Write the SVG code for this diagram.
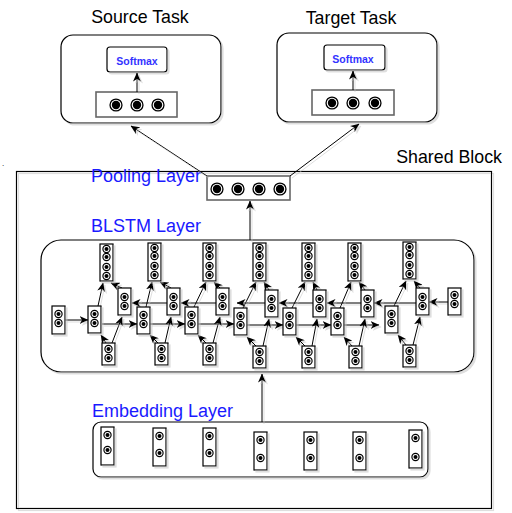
<svg xmlns="http://www.w3.org/2000/svg" xmlns:xlink="http://www.w3.org/1999/xlink" width="512" height="513" viewBox="0 0 512 513">
<style>
.t{font-family:"Liberation Sans",Arial,sans-serif;font-size:17.8px;fill:#000}
.bl{font-family:"Liberation Sans",Arial,sans-serif;font-size:18px;fill:#1a1aff}
.sm{font-family:"Liberation Sans",Arial,sans-serif;font-size:10.5px;font-weight:bold;fill:#3333ff}
.box{fill:#fff;stroke:#000;stroke-width:1.2}
.gbox{fill:#fff;stroke:#666;stroke-width:1.6}
.sh{filter:url(#sh)}
.ln{fill:none;stroke:#000;stroke-width:1}
</style>
<defs>
<filter id="sh" filterUnits="userSpaceOnUse" x="0" y="0" width="512" height="513">
<feOffset in="SourceAlpha" dx="2" dy="2" result="o"/>
<feColorMatrix in="o" type="matrix" values="0 0 0 0 0.55 0 0 0 0 0.55 0 0 0 0 0.55 0 0 0 0.55 0" result="s"/>
<feMerge><feMergeNode in="s"/><feMergeNode in="SourceGraphic"/></feMerge>
</filter>
<marker id="ah" markerUnits="userSpaceOnUse" markerWidth="9" markerHeight="8" refX="8.5" refY="4" orient="auto">
<path d="M0,0 L9,4 L0,8 L2.5,4 z" fill="#000"/>
</marker>
<g id="n"><circle r="4.2" fill="#000"/><circle r="3" fill="#fff"/><circle r="2" fill="#000"/></g>
<g id="N"><circle r="6.6" fill="#000"/><circle r="5.3" fill="#fff"/><circle r="4.2" fill="#000"/></g>
</defs>
<rect width="512" height="513" fill="#fff"/>

<text class="t" x="2" y="166" style="font-size:8px">.</text>

<g id="source-task">
<text class="t" x="140" y="23" text-anchor="middle">Source Task</text>
<rect class="box sh" x="61" y="35" width="160" height="88" rx="12"/>
<g id="source-softmax"><rect class="box sh" x="107" y="47" width="60" height="25" rx="3"/>
<text class="sm" x="137" y="65" text-anchor="middle">Softmax</text></g>
<g id="source-neurons"><rect class="gbox" x="96" y="92" width="81" height="25"/>
<use href="#N" x="116" y="105"/><use href="#N" x="137" y="105"/><use href="#N" x="158" y="105"/></g>
</g>

<g id="target-task">
<text class="t" x="351" y="24" text-anchor="middle">Target Task</text>
<rect class="box sh" x="277" y="33" width="160" height="89" rx="12"/>
<g id="target-softmax"><rect class="box sh" x="324" y="45" width="61" height="25" rx="3"/>
<text class="sm" x="353" y="63" text-anchor="middle">Softmax</text></g>
<g id="target-neurons"><rect class="gbox" x="312" y="90" width="82" height="25"/>
<use href="#N" x="332" y="103"/><use href="#N" x="353" y="103"/><use href="#N" x="375" y="103"/></g>
</g>

<g id="shared-block">
<rect x="16.5" y="171.5" width="475" height="337" fill="none" stroke="#000" stroke-width="1.2" class="sh"/>
<text class="t" x="502" y="163" text-anchor="end">Shared Block</text>
</g>

<g id="pooling-layer">
<text class="bl" x="91" y="182">Pooling Layer</text>
<rect class="gbox" x="207" y="176" width="83" height="24"/>
<use href="#N" x="217" y="189"/><use href="#N" x="238" y="189"/><use href="#N" x="259" y="189"/><use href="#N" x="280" y="189"/>
</g>

<g id="blstm-layer">
<text class="bl" x="91" y="232">BLSTM Layer</text>
<rect class="box sh" x="41" y="240" width="433" height="132" rx="20"/>
</g>

<g id="embedding-layer">
<text class="bl" x="92" y="417">Embedding Layer</text>
<rect class="box sh" x="93" y="422" width="335" height="55" rx="8"/>
</g>

<g id="embedding-cells" class="sh">
<g id="e1"><rect class="box" x="101" y="427" width="13" height="38"/><use href="#n" x="107.5" y="435"/><use href="#n" x="107.5" y="450"/></g>
<g id="e2"><rect class="box" x="153" y="428" width="13" height="38"/><use href="#n" x="159.5" y="436"/><use href="#n" x="159.5" y="453"/></g>
<g id="e3"><rect class="box" x="203" y="428" width="13" height="38"/><use href="#n" x="209.5" y="436"/><use href="#n" x="209.5" y="453"/></g>
<g id="e4"><rect class="box" x="254" y="432" width="13" height="38"/><use href="#n" x="260.5" y="440"/><use href="#n" x="260.5" y="458"/></g>
<g id="e5"><rect class="box" x="304" y="432" width="13" height="38"/><use href="#n" x="310.5" y="440"/><use href="#n" x="310.5" y="458"/></g>
<g id="e6"><rect class="box" x="353" y="432" width="13" height="38"/><use href="#n" x="359.5" y="440"/><use href="#n" x="359.5" y="458"/></g>
<g id="e7"><rect class="box" x="409" y="430" width="13" height="38"/><use href="#n" x="415.5" y="438"/><use href="#n" x="415.5" y="457"/></g>
</g>

<g id="connectors" class="sh">
<line class="ln" x1="137" y1="92" x2="137" y2="73" marker-end="url(#ah)"/>
<line class="ln" x1="353" y1="90" x2="353" y2="71" marker-end="url(#ah)"/>
<line class="ln" x1="207" y1="176" x2="131" y2="126" marker-end="url(#ah)"/>
<line class="ln" x1="290" y1="176" x2="359" y2="124" marker-end="url(#ah)"/>
<line class="ln" x1="250" y1="240" x2="250" y2="201" marker-end="url(#ah)"/>
<line class="ln" x1="262" y1="422" x2="262" y2="374" marker-end="url(#ah)"/>
<line class="ln" x1="65" y1="320" x2="88" y2="320" marker-end="url(#ah)"/>
<line class="ln" x1="102" y1="324" x2="137" y2="324" marker-end="url(#ah)"/>
<line class="ln" x1="150" y1="324" x2="185" y2="324" marker-end="url(#ah)"/>
<line class="ln" x1="198" y1="324" x2="234" y2="324" marker-end="url(#ah)"/>
<line class="ln" x1="247" y1="325" x2="283" y2="325" marker-end="url(#ah)"/>
<line class="ln" x1="296" y1="325" x2="331" y2="325" marker-end="url(#ah)"/>
<line class="ln" x1="344" y1="325" x2="379" y2="325" marker-end="url(#ah)"/>
<line class="ln" x1="448" y1="302" x2="429" y2="302" marker-end="url(#ah)"/>
<line class="ln" x1="416" y1="303" x2="374" y2="303" marker-end="url(#ah)"/>
<line class="ln" x1="361" y1="303" x2="327" y2="303" marker-end="url(#ah)"/>
<line class="ln" x1="313" y1="303" x2="279" y2="303" marker-end="url(#ah)"/>
<line class="ln" x1="265" y1="303" x2="237" y2="303" marker-end="url(#ah)"/>
<line class="ln" x1="216" y1="303" x2="181" y2="303" marker-end="url(#ah)"/>
<line class="ln" x1="167" y1="303" x2="132" y2="303" marker-end="url(#ah)"/>
<line class="ln" x1="98" y1="306" x2="103" y2="283" marker-end="url(#ah)"/>
<line class="ln" x1="146" y1="307" x2="152" y2="282" marker-end="url(#ah)"/>
<line class="ln" x1="194" y1="307" x2="206" y2="282" marker-end="url(#ah)"/>
<line class="ln" x1="243" y1="308" x2="256" y2="282" marker-end="url(#ah)"/>
<line class="ln" x1="292" y1="308" x2="305" y2="282" marker-end="url(#ah)"/>
<line class="ln" x1="340" y1="308" x2="351" y2="282" marker-end="url(#ah)"/>
<line class="ln" x1="394" y1="306" x2="406" y2="281" marker-end="url(#ah)"/>
<line class="ln" x1="122" y1="288" x2="111" y2="283" marker-end="url(#ah)"/>
<line class="ln" x1="171" y1="288" x2="160" y2="282" marker-end="url(#ah)"/>
<line class="ln" x1="220" y1="288" x2="214" y2="282" marker-end="url(#ah)"/>
<line class="ln" x1="269" y1="290" x2="264" y2="282" marker-end="url(#ah)"/>
<line class="ln" x1="317" y1="290" x2="313" y2="282" marker-end="url(#ah)"/>
<line class="ln" x1="365" y1="290" x2="359" y2="282" marker-end="url(#ah)"/>
<line class="ln" x1="420" y1="288" x2="414" y2="281" marker-end="url(#ah)"/>
<line class="ln" x1="106" y1="343" x2="101" y2="335" marker-end="url(#ah)"/>
<line class="ln" x1="158" y1="343" x2="150" y2="335" marker-end="url(#ah)"/>
<line class="ln" x1="206" y1="343" x2="198" y2="335" marker-end="url(#ah)"/>
<line class="ln" x1="256" y1="346" x2="247" y2="337" marker-end="url(#ah)"/>
<line class="ln" x1="305" y1="346" x2="296" y2="337" marker-end="url(#ah)"/>
<line class="ln" x1="352" y1="346" x2="344" y2="337" marker-end="url(#ah)"/>
<line class="ln" x1="406" y1="345" x2="398" y2="335" marker-end="url(#ah)"/>
<line class="ln" x1="112" y1="343" x2="122" y2="317" marker-end="url(#ah)"/>
<line class="ln" x1="165" y1="343" x2="171" y2="317" marker-end="url(#ah)"/>
<line class="ln" x1="213" y1="343" x2="220" y2="317" marker-end="url(#ah)"/>
<line class="ln" x1="263" y1="346" x2="269" y2="319" marker-end="url(#ah)"/>
<line class="ln" x1="312" y1="346" x2="317" y2="319" marker-end="url(#ah)"/>
<line class="ln" x1="359" y1="346" x2="365" y2="319" marker-end="url(#ah)"/>
<line class="ln" x1="413" y1="345" x2="420" y2="317" marker-end="url(#ah)"/>
</g>

<g id="blstm-cells" class="sh">
<g id="in-left"><rect class="box" x="52" y="306" width="13" height="28"/><use href="#n" x="58.5" y="314"/><use href="#n" x="58.5" y="323"/></g>
<g id="in-right"><rect class="box" x="448" y="288" width="13" height="27"/><use href="#n" x="454.5" y="295"/><use href="#n" x="454.5" y="304"/></g>
<g id="f1"><rect class="box" x="88" y="306" width="13" height="27"/><use href="#n" x="94.5" y="314"/><use href="#n" x="94.5" y="323"/></g>
<g id="f2"><rect class="box" x="137" y="307" width="13" height="27"/><use href="#n" x="143.5" y="315"/><use href="#n" x="143.5" y="324"/></g>
<g id="f3"><rect class="box" x="185" y="307" width="13" height="27"/><use href="#n" x="191.5" y="315"/><use href="#n" x="191.5" y="324"/></g>
<g id="f4"><rect class="box" x="234" y="308" width="13" height="27"/><use href="#n" x="240.5" y="316"/><use href="#n" x="240.5" y="325"/></g>
<g id="f5"><rect class="box" x="283" y="308" width="13" height="27"/><use href="#n" x="289.5" y="316"/><use href="#n" x="289.5" y="325"/></g>
<g id="f6"><rect class="box" x="331" y="308" width="13" height="27"/><use href="#n" x="337.5" y="316"/><use href="#n" x="337.5" y="325"/></g>
<g id="f7"><rect class="box" x="385" y="306" width="13" height="27"/><use href="#n" x="391.5" y="314"/><use href="#n" x="391.5" y="323"/></g>
<g id="b1"><rect class="box" x="118" y="288" width="13" height="27"/><use href="#n" x="124.5" y="297"/><use href="#n" x="124.5" y="306"/></g>
<g id="b2"><rect class="box" x="167" y="288" width="13" height="27"/><use href="#n" x="173.5" y="297"/><use href="#n" x="173.5" y="306"/></g>
<g id="b3"><rect class="box" x="216" y="288" width="13" height="27"/><use href="#n" x="222.5" y="297"/><use href="#n" x="222.5" y="306"/></g>
<g id="b4"><rect class="box" x="265" y="290" width="13" height="27"/><use href="#n" x="271.5" y="299"/><use href="#n" x="271.5" y="308"/></g>
<g id="b5"><rect class="box" x="313" y="290" width="13" height="27"/><use href="#n" x="319.5" y="299"/><use href="#n" x="319.5" y="308"/></g>
<g id="b6"><rect class="box" x="361" y="290" width="13" height="27"/><use href="#n" x="367.5" y="299"/><use href="#n" x="367.5" y="308"/></g>
<g id="b7"><rect class="box" x="416" y="288" width="13" height="27"/><use href="#n" x="422.5" y="297"/><use href="#n" x="422.5" y="306"/></g>
<g id="o1"><rect class="box" x="100" y="244" width="13" height="37"/><use href="#n" x="106.5" y="249"/><use href="#n" x="106.5" y="257"/><use href="#n" x="106.5" y="267"/><use href="#n" x="106.5" y="276"/></g>
<g id="o2"><rect class="box" x="148" y="243" width="13" height="38"/><use href="#n" x="154.5" y="248"/><use href="#n" x="154.5" y="256"/><use href="#n" x="154.5" y="266"/><use href="#n" x="154.5" y="275"/></g>
<g id="o3"><rect class="box" x="203" y="243" width="13" height="38"/><use href="#n" x="209.5" y="248"/><use href="#n" x="209.5" y="256"/><use href="#n" x="209.5" y="266"/><use href="#n" x="209.5" y="275"/></g>
<g id="o4"><rect class="box" x="253" y="243" width="13" height="38"/><use href="#n" x="259.5" y="248"/><use href="#n" x="259.5" y="256"/><use href="#n" x="259.5" y="266"/><use href="#n" x="259.5" y="275"/></g>
<g id="o5"><rect class="box" x="302" y="243" width="13" height="38"/><use href="#n" x="308.5" y="248"/><use href="#n" x="308.5" y="256"/><use href="#n" x="308.5" y="266"/><use href="#n" x="308.5" y="275"/></g>
<g id="o6"><rect class="box" x="348" y="243" width="13" height="38"/><use href="#n" x="354.5" y="248"/><use href="#n" x="354.5" y="256"/><use href="#n" x="354.5" y="266"/><use href="#n" x="354.5" y="275"/></g>
<g id="o7"><rect class="box" x="403" y="242" width="13" height="37"/><use href="#n" x="409.5" y="247"/><use href="#n" x="409.5" y="255"/><use href="#n" x="409.5" y="265"/><use href="#n" x="409.5" y="274"/></g>
<g id="x1"><rect class="box" x="102" y="343" width="13" height="22"/><use href="#n" x="108.5" y="349"/><use href="#n" x="108.5" y="358"/></g>
<g id="x2"><rect class="box" x="155" y="343" width="13" height="22"/><use href="#n" x="161.5" y="349"/><use href="#n" x="161.5" y="358"/></g>
<g id="x3"><rect class="box" x="203" y="343" width="13" height="22"/><use href="#n" x="209.5" y="349"/><use href="#n" x="209.5" y="358"/></g>
<g id="x4"><rect class="box" x="253" y="346" width="13" height="22"/><use href="#n" x="259.5" y="352"/><use href="#n" x="259.5" y="361"/></g>
<g id="x5"><rect class="box" x="302" y="346" width="13" height="22"/><use href="#n" x="308.5" y="352"/><use href="#n" x="308.5" y="361"/></g>
<g id="x6"><rect class="box" x="349" y="346" width="13" height="22"/><use href="#n" x="355.5" y="352"/><use href="#n" x="355.5" y="361"/></g>
<g id="x7"><rect class="box" x="403" y="345" width="13" height="22"/><use href="#n" x="409.5" y="351"/><use href="#n" x="409.5" y="360"/></g>
</g>
</svg>
